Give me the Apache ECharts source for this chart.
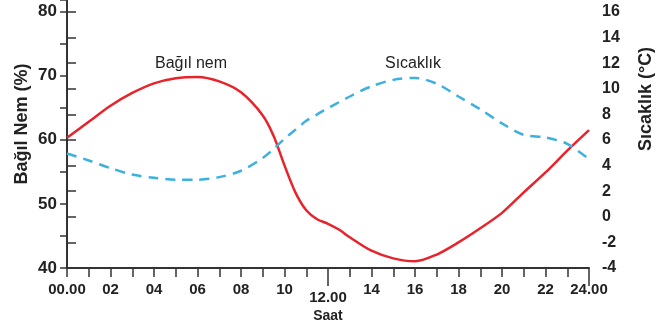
<!DOCTYPE html>
<html>
<head>
<meta charset="utf-8">
<script src="https://cdn.jsdelivr.net/npm/echarts@6/dist/echarts.min.js"></script>
<style>
html, body { margin: 0; padding: 0; background: #fff; }
#main { width: 669px; height: 328px; }
</style>
</head>
<body>
<div id="main"></div>
<script>
// saat (0-24)
const hours = [0, 1, 2, 3, 4, 5, 6, 7, 8, 9, 9.5, 10, 10.5, 11, 11.5, 12, 12.5, 13, 14, 15, 16, 17, 18, 19, 20, 21, 22, 23, 24];
// bağıl nem (%)
const humidity = [60.3, 62.8, 65.3, 67.3, 68.8, 69.6, 69.8, 69.1, 67.4, 63.8, 60.6, 56.0, 51.8, 49.0, 47.6, 46.9, 46.0, 44.8, 42.7, 41.5, 41.05, 42.1, 44.0, 46.2, 48.6, 51.8, 54.9, 58.3, 61.5];
// sıcaklık (°C)
const temperature = [4.95, 4.4, 3.8, 3.3, 3.05, 2.9, 2.9, 3.1, 3.6, 4.6, 5.3, 6.1, 6.8, 7.5, 8.0, 8.5, 8.95, 9.4, 10.2, 10.7, 10.85, 10.4, 9.4, 8.4, 7.3, 6.4, 6.2, 5.7, 4.5];
const hourLabels = { 0: '00.00', 2: '02', 4: '04', 6: '06', 8: '08', 10: '10', 12: '12.00', 14: '14', 16: '16', 18: '18', 20: '20', 22: '22', 24: '24.00' };
const longTicks = [12, 24];

const axisColor = '#333';
const textColor = '#222';
const font = 'Arial, "Liberation Sans", sans-serif';

let myChart = echarts.init(document.getElementById('main'));

myChart.setOption({
    animation: false,
    grid: { left: 67, right: 80, top: 0, bottom: 60 },
    xAxis: [
        {
            type: 'value',
            min: 0,
            max: 24,
            interval: 1,
            splitLine: { show: false },
            axisLine: { onZero: false, lineStyle: { color: axisColor, width: 2 } },
            axisTick: { inside: false, length: 9, lineStyle: { color: axisColor, width: 1.5 } },
            axisLabel: {
                margin: 14,
                color: textColor,
                fontFamily: font,
                fontWeight: 'bold',
                fontSize: 15,
                showMinLabel: true,
                showMaxLabel: true,
                formatter: function (v) {
                    if (v === 12) return '{d|12.00}';
                    return hourLabels[v] || '';
                },
                rich: {
                    d: { padding: [8, 0, 0, 0], color: textColor, fontFamily: font, fontWeight: 'bold', fontSize: 15 }
                }
            }
        },
        {
            type: 'value',
            min: 0,
            max: 24,
            position: 'bottom',
            offset: 0,
            splitLine: { show: false },
            axisLine: { show: false, onZero: false },
            axisTick: { inside: false, customValues: longTicks, length: 18, lineStyle: { color: axisColor, width: 1.5 } },
            axisLabel: { show: false }
        }
    ],
    yAxis: [
        {
            type: 'value',
            min: 40,
            max: 81.8,
            interval: 10,
            splitLine: { show: false },
            axisLine: { show: true, lineStyle: { color: axisColor, width: 2 } },
            axisTick: { show: true, length: 7, lineStyle: { color: axisColor, width: 1.5 } },
            minorTick: { show: true, splitNumber: 2, length: 7, lineStyle: { color: axisColor, width: 1.5 } },
            axisLabel: {
                margin: 10,
                color: textColor,
                fontFamily: font,
                fontWeight: 'bold',
                fontSize: 17,
                showMaxLabel: false
            }
        },
        {
            type: 'value',
            position: 'right',
            min: -4,
            max: 16.94,
            interval: 2,
            splitLine: { show: false },
            axisLine: { show: true, lineStyle: { color: axisColor, width: 2 } },
            axisTick: { show: true, length: 9, lineStyle: { color: axisColor, width: 1.5 } },
            axisLabel: {
                margin: 13,
                color: textColor,
                fontFamily: font,
                fontWeight: 'bold',
                fontSize: 16,
                showMaxLabel: false
            }
        }
    ],
    graphic: [
        {
            type: 'text', x: 22, y: 124, rotation: Math.PI / 2,
            style: { text: 'Bağıl Nem (%)', fill: textColor, font: 'bold 18px ' + font, align: 'center', verticalAlign: 'middle' }
        },
        {
            type: 'text', x: 646, y: 99, rotation: Math.PI / 2,
            style: { text: 'Sıcaklık (°C)', fill: textColor, font: 'bold 18px ' + font, align: 'center', verticalAlign: 'middle' }
        },
        {
            type: 'text', x: 328, y: 316,
            style: { text: 'Saat', fill: textColor, font: 'bold 14px ' + font, align: 'center', verticalAlign: 'middle' }
        },
        {
            type: 'text', x: 191, y: 64,
            style: { text: 'Bağıl nem', fill: textColor, font: '16px ' + font, align: 'center', verticalAlign: 'middle' }
        },
        {
            type: 'text', x: 413, y: 64,
            style: { text: 'Sıcaklık', fill: textColor, font: '16px ' + font, align: 'center', verticalAlign: 'middle' }
        }
    ],
    series: [
        {
            name: 'Bağıl nem',
            type: 'line',
            yAxisIndex: 0,
            smooth: 0.3,
            showSymbol: false,
            lineStyle: { color: '#e8232b', width: 2.5 },
            data: hours.map((h, i) => [h, humidity[i]])
        },
        {
            name: 'Sıcaklık',
            type: 'line',
            yAxisIndex: 1,
            smooth: 0.3,
            showSymbol: false,
            lineStyle: { color: '#3cb1e0', width: 2.5, type: [10, 7] },
            data: hours.map((h, i) => [h, temperature[i]])
        }
    ]
});
window.addEventListener('resize', function () {
    myChart.resize();
});
</script>
</body>
</html>
